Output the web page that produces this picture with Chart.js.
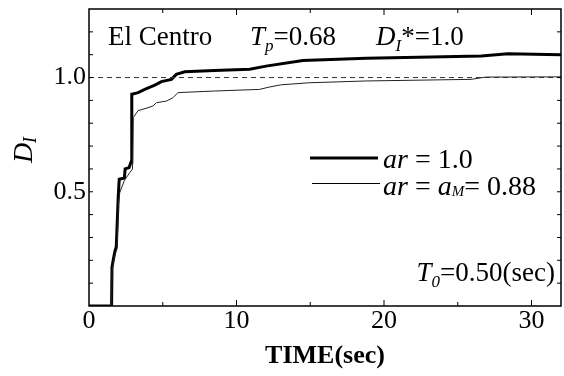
<!DOCTYPE html>
<html>
<head>
<meta charset="utf-8">
<script src="https://cdn.jsdelivr.net/npm/chart.js@4.4.1/dist/chart.umd.min.js"></script>
<style>
    html, body { margin: 0; padding: 0; background: #fff; }
</style>
</head>
<body>
<canvas id="chart1" width="564" height="376"></canvas>
<script>
const chart1canvas = document.getElementById("chart1")

// ar = 1.0 (thick)
const timeThick = [0, 1.53, 1.56, 1.64, 1.76, 1.85, 1.98, 2.05, 2.4, 2.45, 2.72, 2.85, 2.9, 3.33, 3.78, 4.46, 4.91, 5.59, 5.92, 6.49, 8.5, 10.9, 12.0, 14.5, 18.8, 23.2, 26.6, 28.4, 32]
const dThick = [0, 0, 0.17, 0.2, 0.24, 0.26, 0.475, 0.555, 0.56, 0.6, 0.606, 0.63, 0.927, 0.934, 0.948, 0.967, 0.982, 0.992, 1.014, 1.025, 1.031, 1.036, 1.05, 1.075, 1.084, 1.09, 1.094, 1.104, 1.1]
// ar = aM = 0.88 (thin)
const timeThin = [0, 1.53, 1.57, 1.65, 1.78, 1.9, 2.0, 2.09, 2.4, 2.77, 2.95, 3.0, 3.33, 4.0, 4.35, 4.57, 5.25, 5.7, 6.03, 8.5, 11.55, 12.2, 13.0, 14.9, 18.8, 25.9, 26.9, 32]
const dThin = [0, 0, 0.15, 0.19, 0.23, 0.25, 0.45, 0.497, 0.55, 0.584, 0.6, 0.825, 0.855, 0.868, 0.876, 0.89, 0.897, 0.912, 0.934, 0.941, 0.948, 0.958, 0.968, 0.977, 0.985, 0.992, 1.002, 1.003]
const refLevel = 1.0

const xTickLabels = [0, 10, 20, 30]
const yTickLabels = [0.5, 1.0]
const xTickMarks = [5, 10, 15, 20, 25, 30]
const yTickMarks = [0.1, 0.2, 0.3, 0.4, 0.5, 0.6, 0.7, 0.8, 0.9, 1.0, 1.1, 1.2]

const serif = "'Liberation Serif', 'Times New Roman', serif"

const toPoints = (xs, ys) => xs.map((x, i) => ({ x: x, y: ys[i] }))

function drawRuns(ctx, x, y, runs) {
    runs.forEach(r => {
        ctx.font = r.font
        ctx.fillText(r.text, x, y + (r.dy || 0))
        x += ctx.measureText(r.text).width
    })
}

function runsWidth(ctx, runs) {
    let w = 0
    runs.forEach(r => { ctx.font = r.font; w += ctx.measureText(r.text).width })
    return w
}

const reg = "27px " + serif
const ita = "italic 27px " + serif
const sub = "italic 17px " + serif
const legReg = "28px " + serif
const legIta = "italic 28px " + serif

const framePlugin = {
    id: "frame",
    afterDraw(chart) {
        const ctx = chart.ctx
        const a = chart.chartArea
        const xs = chart.scales.x
        const ys = chart.scales.y
        ctx.save()
        ctx.strokeStyle = "#000"
        ctx.lineWidth = 1.5
        ctx.strokeRect(a.left, a.top, a.right - a.left, a.bottom - a.top)

        // inward tick marks
        ctx.lineWidth = 1
        ctx.beginPath()
        yTickMarks.forEach(v => {
            const py = ys.getPixelForValue(v)
            ctx.moveTo(a.left, py); ctx.lineTo(a.left + 4, py)
            ctx.moveTo(a.right, py); ctx.lineTo(a.right - 4, py)
        })
        xTickMarks.forEach(v => {
            const px = xs.getPixelForValue(v)
            const len = v % 10 === 0 ? 6 : 4
            ctx.moveTo(px, a.bottom); ctx.lineTo(px, a.bottom - len)
            ctx.moveTo(px, a.top); ctx.lineTo(px, a.top + len)
        })
        ctx.stroke()

        ctx.fillStyle = "#000"
        ctx.textBaseline = "alphabetic"
        ctx.textAlign = "left"

        // header
        drawRuns(ctx, 108, 45, [{ text: "El Centro", font: reg }])
        drawRuns(ctx, 250, 45, [
            { text: "T", font: ita },
            { text: "p", font: sub, dy: 6 },
            { text: "=0.68", font: reg }
        ])
        drawRuns(ctx, 376, 45, [
            { text: "D", font: ita },
            { text: "I", font: sub, dy: 6 },
            { text: "*=1.0", font: reg }
        ])

        // legend
        ctx.beginPath()
        ctx.lineWidth = 3
        ctx.moveTo(310, 158); ctx.lineTo(378, 158)
        ctx.stroke()
        ctx.beginPath()
        ctx.lineWidth = 1
        ctx.moveTo(312, 183.5); ctx.lineTo(380, 183.5)
        ctx.stroke()
        drawRuns(ctx, 383, 168, [
            { text: "ar", font: legIta },
            { text: " = 1.0", font: legReg }
        ])
        drawRuns(ctx, 383, 195, [
            { text: "ar", font: legIta },
            { text: " = ", font: legReg },
            { text: "a", font: legIta },
            { text: "M", font: "italic 15px " + serif, dy: 1 },
            { text: "= 0.88", font: legReg }
        ])

        const t0 = [
            { text: "T", font: ita },
            { text: "0", font: sub, dy: 6 },
            { text: "=0.50(sec)", font: reg }
        ]
        drawRuns(ctx, 555 - runsWidth(ctx, t0), 281, t0)

        // y axis title
        ctx.translate(25, 150)
        ctx.rotate(-Math.PI / 2)
        const dl = [
            { text: "D", font: "italic 28px " + serif },
            { text: "I", font: "italic 18px " + serif, dy: 6 }
        ]
        ctx.textBaseline = "middle"
        drawRuns(ctx, -runsWidth(ctx, dl) / 2, 0, dl)
        ctx.restore()
    }
}

new Chart(chart1canvas, {
    type: "line",
    data: {
        datasets: [
            {
                label: "ref",
                data: toPoints([0, 32], [refLevel, refLevel]),
                borderColor: "#333",
                borderWidth: 1,
                borderDash: [5, 4],
                pointRadius: 0
            },
            {
                label: "ar = aM = 0.88",
                data: toPoints(timeThin, dThin),
                borderColor: "#222",
                borderWidth: 1,
                pointRadius: 0,
                tension: 0
            },
            {
                label: "ar = 1.0",
                data: toPoints(timeThick, dThick),
                borderColor: "#000",
                borderWidth: 3,
                pointRadius: 0,
                tension: 0
            }
        ]
    },
    options: {
        responsive: false,
        animation: false,
        devicePixelRatio: 1,
        layout: { padding: { top: 9, right: 3, left: 0, bottom: 0 } },
        plugins: {
            legend: { display: false },
            tooltip: { enabled: false }
        },
        scales: {
            x: {
                type: "linear",
                min: 0,
                max: 32,
                afterBuildTicks: s => { s.ticks = xTickLabels.map(v => ({ value: v })) },
                afterFit: s => { s.height = 70; s.paddingLeft = 0; s.paddingRight = 0 },
                grid: { display: false, drawTicks: false },
                border: { display: false },
                ticks: {
                    color: "#000",
                    font: { family: serif, size: 26 },
                    padding: 0,
                    maxRotation: 0,
                    callback: v => String(v)
                },
                title: {
                    display: true,
                    text: "TIME(sec)",
                    color: "#000",
                    font: { family: serif, size: 26, weight: "bold" },
                    padding: { top: 12 }
                }
            },
            y: {
                type: "linear",
                min: 0,
                max: 1.3,
                afterBuildTicks: s => { s.ticks = yTickLabels.map(v => ({ value: v })) },
                afterFit: s => { s.width = 89; s.paddingTop = 0; s.paddingBottom = 0 },
                grid: { display: false, drawTicks: false },
                border: { display: false },
                ticks: {
                    color: "#000",
                    font: { family: serif, size: 26 },
                    padding: 3,
                    callback: v => v.toFixed(1)
                }
            }
        }
    },
    plugins: [framePlugin]
})
</script>
</body>
</html>
